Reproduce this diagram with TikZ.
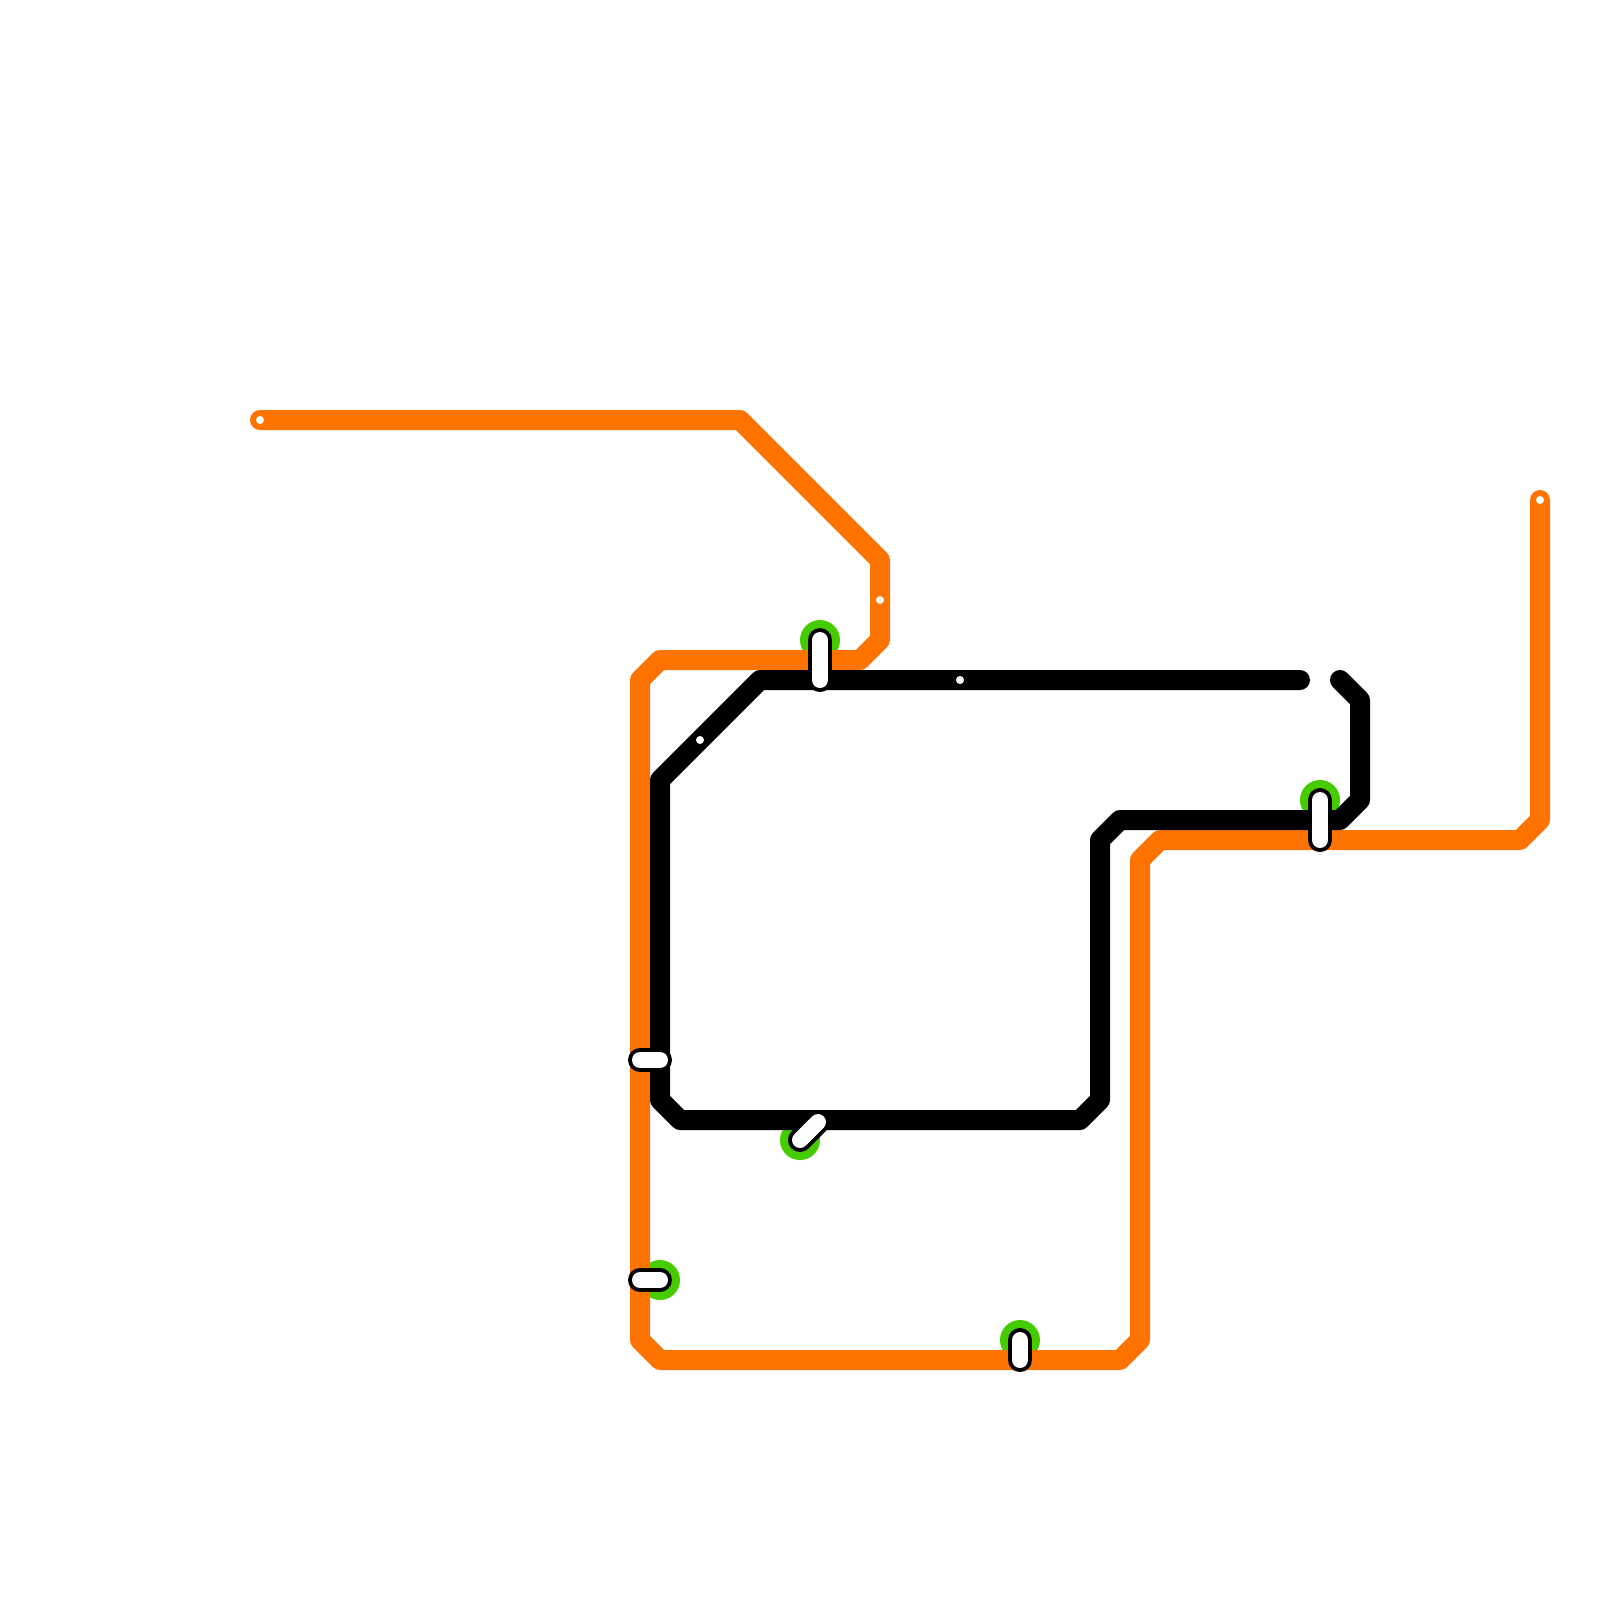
\documentclass[tikz,border=0pt]{standalone}
\usepackage{tikz}
\definecolor{lineorange}{RGB}{255,115,0}
\definecolor{hubgreen}{RGB}{68,204,0}

\begin{document}
\begin{tikzpicture}[
    x=0.2cm, y=-0.2cm,
    orangeline/.style={draw=lineorange, line width=2mm, line join=round, line cap=round},
    blackline/.style={draw=black, line width=2mm, line join=round, line cap=round},
    halo/.style={circle, fill=hubgreen, minimum size=4mm, inner sep=0pt},
    halt/.style={circle, fill=white, minimum size=0.8mm, inner sep=0pt},
    pillrim/.style={draw=black, line width=2.4mm, line cap=round},
    pillcore/.style={draw=white, line width=1.6mm, line cap=round}
]
    \useasboundingbox (0,0) rectangle (80,80);

    % Green rings
    \node[halo] (ringnorth) at (41,32) {};
    \node[halo] (ringeast) at (66,40) {};
    \node[halo] (ringmid) at (40,57) {};
    \node[halo] (ringwest) at (33,64) {};
    \node[halo] (ringsouth) at (51,67) {};

    % Line ends
    \coordinate (orangestart) at (13,21);
    \coordinate (orangeend) at (77,25);
    \coordinate (blackstart) at (65,34);
    \coordinate (blackend) at (67,34);

    % Lines
    \draw[orangeline] (orangestart) -- (37,21) -- (44,28) -- (44,32) -- (43,33) -- (33,33) -- (32,34) -- (32,67) -- (33,68) -- (56,68) -- (57,67) -- (57,43) -- (58,42) -- (76,42) -- (77,41) -- (orangeend);
    \draw[blackline] (blackstart) -- (38,34) -- (33,39) -- (33,55) -- (34,56) -- (54,56) -- (55,55) -- (55,42) -- (56,41) -- (67,41) -- (68,40) -- (68,35) -- (blackend);

    % Small stops
    \node[halt] (stopwest) at (orangestart) {};
    \node[halt] (stopupper) at (44,30) {};
    \node[halt] (stopdiag) at (35,37) {};
    \node[halt] (stopblack) at (48,34) {};
    \node[halt] (stopeast) at (orangeend) {};

    % Pills
    \coordinate (pillnorthb) at (41,34);
    \coordinate (pilleastb) at (66,42);
    \coordinate (pillgapa) at (32,53);
    \coordinate (pillgapb) at (33,53);
    \coordinate (pillmidb) at (40.9,56.1);
    \coordinate (pillwesta) at (32,64);
    \coordinate (pillsouthb) at (51,68);

    \draw[pillrim] (ringnorth.center) -- (pillnorthb);
    \draw[pillcore] (ringnorth.center) -- (pillnorthb);
    \draw[pillrim] (ringeast.center) -- (pilleastb);
    \draw[pillcore] (ringeast.center) -- (pilleastb);
    \draw[pillrim] (pillgapa) -- (pillgapb);
    \draw[pillcore] (pillgapa) -- (pillgapb);
    \draw[pillrim] (ringmid.center) -- (pillmidb);
    \draw[pillcore] (ringmid.center) -- (pillmidb);
    \draw[pillrim] (pillwesta) -- (ringwest.center);
    \draw[pillcore] (pillwesta) -- (ringwest.center);
    \draw[pillrim] (ringsouth.center) -- (pillsouthb);
    \draw[pillcore] (ringsouth.center) -- (pillsouthb);
\end{tikzpicture}
\end{document}
